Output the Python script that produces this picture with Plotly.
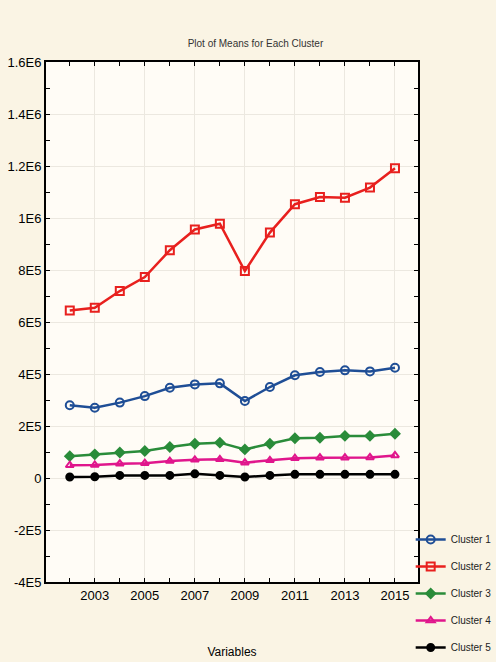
import plotly.graph_objects as go

years = list(range(2002, 2016))
cluster1 = [280000, 270000, 290000, 315000, 347000, 360000, 364000, 296000, 350000, 395000, 408000, 414000, 410000, 424000]
cluster2 = [644000, 655000, 719000, 773000, 876000, 956000, 978000, 796000, 944000, 1053000, 1081000, 1078000, 1117000, 1191000]
cluster3 = [84000, 91000, 98000, 104000, 119000, 132000, 136000, 110000, 132000, 153000, 155000, 162000, 162000, 170000]
cluster4 = [49000, 50000, 55000, 57000, 65000, 70000, 72000, 59000, 68000, 76000, 78000, 78000, 79000, 87000]
cluster5 = [4000, 5000, 10000, 10000, 10000, 16000, 10000, 4000, 10000, 14000, 14000, 14000, 14000, 14000]

names = ["Cluster 1", "Cluster 2", "Cluster 3", "Cluster 4", "Cluster 5"]
series = [cluster1, cluster2, cluster3, cluster4, cluster5]
colors = ["#1F4E96", "#E8201E", "#2A8C3A", "#E0168C", "#000000"]
symbols = ["circle-open", "square-open", "diamond", "triangle-up-open", "circle"]
msizes = [8, 8, 7, 7, 7]

ytick_vals = [-400000, -200000, 0, 200000, 400000, 600000, 800000, 1000000, 1200000, 1400000, 1600000]
ytick_text = ["-4E5", "-2E5", "0", "2E5", "4E5", "6E5", "8E5", "1E6", "1.2E6", "1.4E6", "1.6E6"]
xtick_vals = [2003, 2005, 2007, 2009, 2011, 2013, 2015]
xtick_text = [str(v) for v in xtick_vals]

fig = go.Figure()
for i, (n, s) in enumerate(zip(names, series)):
    fig.add_trace(go.Scatter(
        x=years, y=s, name=n, mode="lines+markers", legendgroup=n,
        line=dict(color=colors[i], width=2.5),
        marker=dict(symbol=symbols[i], size=msizes[i], color=colors[i],
                    line=dict(color=colors[i], width=2)),
    ))

axis_font = dict(family="Liberation Sans, Arial, sans-serif", size=13, color="#000")
fig.update_layout(
    width=496, height=662,
    margin=dict(l=46, r=78, t=62, b=80, autoexpand=False),
    paper_bgcolor="#FAF4E4",
    plot_bgcolor="#FFFCF6",
    font=axis_font,
    title=dict(text="Plot of Means for Each Cluster", x=0.515, xanchor="center",
               y=0.935, yanchor="middle", font=dict(size=10, color="#333")),
    legend=dict(xref="container", yref="container", x=0.828, xanchor="left",
                y=0.207, yanchor="top", itemwidth=30,
                bgcolor="rgba(0,0,0,0)", tracegroupgap=8,
                font=dict(size=10, color="#222"), traceorder="grouped"),
    showlegend=True,
)
fig.update_xaxes(
    range=[2001.05, 2015.92], tickvals=xtick_vals, ticktext=xtick_text,
    ticks="inside", ticklen=4, tickcolor="#000", mirror="allticks",
    showline=True, linecolor="#000", linewidth=2, automargin=False,
    showgrid=True, gridcolor="#ECE8E0", gridwidth=1, zeroline=False,
    minor=dict(dtick=1, tick0=2002, ticks="inside", ticklen=4, tickcolor="#000", showgrid=False),
    title=dict(text="Variables", font=dict(size=12), standoff=46),
)
fig.update_yaxes(
    range=[-400000, 1600000], tickvals=ytick_vals, ticktext=ytick_text,
    ticks="inside", ticklen=4, tickcolor="#000", mirror="allticks",
    showline=True, linecolor="#000", linewidth=2, automargin=False,
    showgrid=True, gridcolor="#ECE8E0", gridwidth=1, zeroline=False,
    minor=dict(dtick=100000, tick0=0, ticks="inside", ticklen=4, tickcolor="#000", showgrid=False),
)

fig.write_html("out.html", config={"displayModeBar": False},
               post_script="document.body.style.margin='0';document.body.style.overflow='hidden';")
